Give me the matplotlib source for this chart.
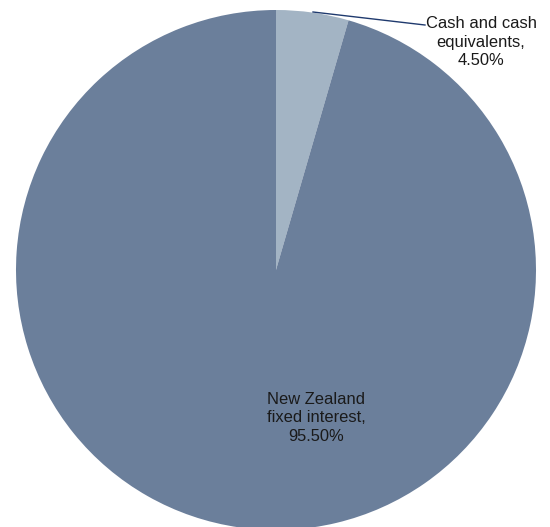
import matplotlib.pyplot as plt

categories = ["Cash and cash\nequivalents,", "New Zealand\nfixed interest,"]
shares = [4.50, 95.50]
colours = ["#A3B4C4", "#6B7F9B"]

fig = plt.figure(figsize=(5.5, 5.27), dpi=100)
ax = fig.add_axes([0, 0, 1, 1])

cx, cy, r = 276, 270, 260
# y axis is inverted below, so start at -90 and go counterclockwise in data terms
ax.pie(shares, colors=colours, startangle=-90, counterclock=True,
       center=(cx, cy), radius=r, frame=True)
ax.set_xlim(0, 550)
ax.set_ylim(527, 0)
ax.set_aspect("equal")
ax.axis("off")

font = dict(family=["Liberation Sans", "DejaVu Sans"], fontsize=11.9, color="#1a1a1a",
            ha="center", va="center", linespacing=1.3)
ax.text(481, 42, f"{categories[0]}\n{shares[0]:.2f}%", **font)
ax.text(316, 418, f"{categories[1]}\n{shares[1]:.2f}%", **font)
ax.plot([313, 425], [12, 25], color="#1F3A6E", lw=1)

fig.savefig("out.png", dpi=100)
